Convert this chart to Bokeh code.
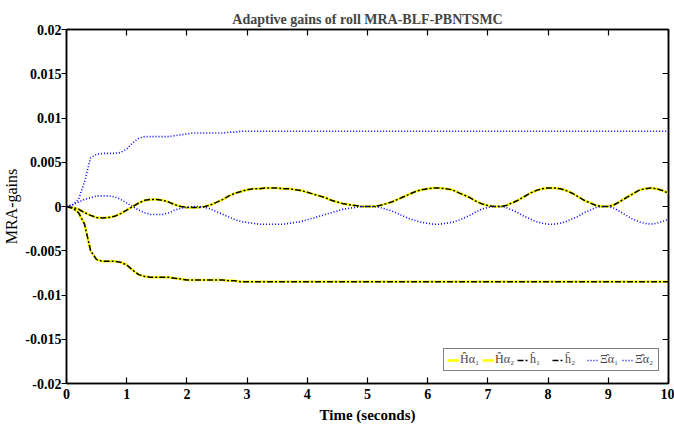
import numpy as np
from bokeh.plotting import figure
from bokeh.models import Range1d, LinearAxis, FixedTicker, PrintfTickFormatter, Legend, LegendItem
from bokeh.embed import file_html
from bokeh.resources import INLINE

# ---- data ----
T_SETTLE = [0.0, 0.1, 0.2, 0.3, 0.4, 0.5, 0.6, 0.7, 0.8, 0.9,
            1.0, 1.1, 1.2, 1.3, 1.4, 1.5, 1.6, 1.7, 1.8, 1.9,
            2.0, 2.1, 2.2, 2.3, 2.4, 2.5, 2.6, 2.7, 2.8, 2.9, 3.0, 10.0]

XI_A1 = [0.0, 0.0002, 0.0008, 0.0028, 0.0055, 0.0059, 0.0060, 0.0060, 0.0060, 0.0061,
         0.0065, 0.0072, 0.0077, 0.0079, 0.0079, 0.0079, 0.0079, 0.0079, 0.0080, 0.0081,
         0.0082, 0.0083, 0.0083, 0.0083, 0.0083, 0.0083, 0.0083, 0.0084, 0.0084, 0.0085, 0.0085, 0.0085]

H_A1 = [0.0, -0.0002, -0.0007, -0.0020, -0.0050, -0.0060, -0.0062, -0.0062, -0.0062, -0.0063,
        -0.0066, -0.0072, -0.0077, -0.0079, -0.0080, -0.0080, -0.0080, -0.0080, -0.0081, -0.0082,
        -0.0083, -0.0083, -0.0083, -0.0083, -0.0083, -0.0083, -0.0083, -0.0084, -0.0084, -0.0085, -0.0085, -0.0085]

T_OSC = np.round(np.arange(101) * 0.1, 1)

H_A2 = [0.0, -0.0001, -0.0003, -0.0007, -0.0010, -0.00125, -0.0013, -0.00125, -0.0011, -0.0008,
        -0.0004, 0.0000, 0.0004, 0.0007, 0.0008, 0.0008, 0.0007, 0.0005, 0.0002, 0.0000,
        -0.0001, -0.0001, -0.0001, 0.0000, 0.0002, 0.0005, 0.0008, 0.0012, 0.0015, 0.0017,
        0.0019, 0.0020, 0.0020, 0.0021, 0.0021, 0.0021, 0.0020, 0.0020, 0.0019, 0.0018,
        0.0016, 0.0014, 0.0012, 0.0010, 0.0007, 0.0005, 0.0003, 0.0002, 0.0001, 0.0000,
        0.0000, 0.0000, 0.0001, 0.0003, 0.0005, 0.0008, 0.0011, 0.0014, 0.0017, 0.0019,
        0.0020, 0.0021, 0.0021, 0.0020, 0.0019, 0.0016, 0.0013, 0.0010, 0.0006, 0.0003,
        0.0001, 0.0000, 0.0000, 0.0001, 0.0004, 0.0007, 0.0011, 0.0015, 0.0018, 0.0020,
        0.0021, 0.0021, 0.0020, 0.0018, 0.0015, 0.0011, 0.0007, 0.0004, 0.0001, 0.0000,
        0.0000, 0.0002, 0.0006, 0.0010, 0.0014, 0.0018, 0.0020, 0.0021, 0.0020, 0.0018,
        0.0015]

XI_A2 = [0.0, 0.0002, 0.0005, 0.0008, 0.0010, 0.0012, 0.0012, 0.0012, 0.0011, 0.0008,
         0.0004, 0.0000, -0.0004, -0.0007, -0.0009, -0.0009, -0.0009, -0.0007, -0.0004, -0.0002,
         -0.0001, 0.0000, 0.0000, -0.0001, -0.0003, -0.0006, -0.0009, -0.0012, -0.0015, -0.0017,
         -0.0018, -0.0019, -0.0020, -0.0020, -0.0020, -0.0020, -0.0020, -0.0019, -0.0018, -0.0017,
         -0.0015, -0.0013, -0.0011, -0.0009, -0.0007, -0.0005, -0.0003, -0.0002, -0.0001, 0.0000,
         0.0000, 0.0000, -0.0001, -0.0003, -0.0005, -0.0008, -0.0011, -0.0014, -0.0016, -0.0018,
         -0.0019, -0.0020, -0.0020, -0.0019, -0.0018, -0.0016, -0.0013, -0.0010, -0.0006, -0.0003,
         -0.0001, 0.0000, 0.0000, -0.0001, -0.0004, -0.0007, -0.0011, -0.0014, -0.0017, -0.0019,
         -0.0020, -0.0020, -0.0019, -0.0017, -0.0014, -0.0011, -0.0007, -0.0004, -0.0001, 0.0000,
         0.0000, -0.0002, -0.0006, -0.0010, -0.0014, -0.0017, -0.0019, -0.0020, -0.0019, -0.0017,
         -0.0014]

Y_TICKS = [-0.02, -0.015, -0.01, -0.005, 0.0, 0.005, 0.01, 0.015, 0.02]
X_TICKS = [0, 1, 2, 3, 4, 5, 6, 7, 8, 9, 10]
LABELS = ["Ĥα₁", "Ĥα₂", "ĥ₁", "ĥ₂", "Ξ̂α₁", "Ξ̂α₂"]

SERIF = "Liberation Serif"

p = figure(width=674, height=431, output_backend="svg", toolbar_location=None,
           x_range=Range1d(0, 10), y_range=Range1d(-0.02, 0.02),
           min_border_left=66, min_border_right=6, min_border_top=29, min_border_bottom=48)

p.title.text = "Adaptive gains of roll MRA-BLF-PBNTSMC"
p.title.align = "center"
p.title.text_font = SERIF
p.title.text_font_style = "bold"
p.title.text_font_size = "14px"
p.title.offset = 0
p.title.standoff = 6

p.grid.visible = False
p.outline_line_color = "black"
p.outline_line_width = 1.5
p.background_fill_color = "white"
p.border_fill_color = "white"

# lines: yellow solid underneath, black dash-dot on top, blue dotted
r_ya1 = p.line(T_SETTLE, H_A1, line_color="#FFFF00", line_width=2.5)
r_ya2 = p.line(T_OSC, H_A2, line_color="#FFFF00", line_width=2.5)
r_h1 = p.line(T_SETTLE, H_A1, line_color="black", line_width=1.5, line_dash="6 2 2 2")
r_h2 = p.line(T_OSC, H_A2, line_color="black", line_width=1.5, line_dash="6 2 2 2")
r_x1 = p.line(T_SETTLE, XI_A1, line_color="#0000FF", line_width=1.6, line_dash="1 2")
r_x2 = p.line(T_OSC, XI_A2, line_color="#0000FF", line_width=1.6, line_dash="1 2")

# axes
xa = p.xaxis[0]
xa.ticker = FixedTicker(ticks=X_TICKS)
xa.axis_label = "Time (seconds)"
ya = p.yaxis[0]
ya.ticker = FixedTicker(ticks=Y_TICKS)
ya.formatter = PrintfTickFormatter(format="%g")
ya.axis_label = "MRA-gains"

for ax in (xa, ya):
    ax.axis_line_width = 1.5
    ax.major_tick_line_width = 1.2
    ax.minor_tick_line_color = None
    ax.major_label_text_font = SERIF
    ax.major_label_text_font_style = "bold"
    ax.major_label_text_font_size = "14px"
    ax.major_label_text_color = "black"
    ax.axis_label_text_font = SERIF
    ax.axis_label_text_color = "black"

xa.major_tick_in = 6
xa.major_tick_out = 0
xa.major_label_standoff = 5
xa.axis_label_text_font_style = "bold"
xa.axis_label_text_font_size = "15px"
xa.axis_label_standoff = 5

ya.major_tick_in = 0
ya.major_tick_out = 5
ya.major_label_standoff = 0
ya.axis_label_text_font_style = "normal"
ya.axis_label_text_font_size = "16px"
ya.axis_label_standoff = 2

top = LinearAxis(ticker=FixedTicker(ticks=X_TICKS), major_tick_in=6, major_tick_out=0,
                 major_label_text_font_size="1px", major_label_text_color=None,
                 major_label_standoff=0,
                 minor_tick_line_color=None, axis_line_width=1.5, major_tick_line_width=1.2)
right = LinearAxis(ticker=FixedTicker(ticks=Y_TICKS), major_tick_in=6, major_tick_out=0,
                   major_label_text_font_size="1px", major_label_text_color=None,
                   major_label_standoff=0,
                   minor_tick_line_color=None, axis_line_width=1.5, major_tick_line_width=1.2)
p.add_layout(top, "above")
p.add_layout(right, "right")

legend = Legend(items=[LegendItem(label=LABELS[0], renderers=[r_ya1]),
                       LegendItem(label=LABELS[1], renderers=[r_ya2]),
                       LegendItem(label=LABELS[2], renderers=[r_h1]),
                       LegendItem(label=LABELS[3], renderers=[r_h2]),
                       LegendItem(label=LABELS[4], renderers=[r_x1]),
                       LegendItem(label=LABELS[5], renderers=[r_x2])],
                orientation="horizontal", location=(377, 12),
                border_line_color="black", border_line_width=1.5,
                label_text_font=SERIF, label_text_font_size="12px",
                glyph_width=12, glyph_height=14, label_standoff=1, spacing=2,
                padding=3, margin=0, background_fill_alpha=1.0)
p.add_layout(legend)

open("out.html", "w").write(file_html(p, INLINE))
